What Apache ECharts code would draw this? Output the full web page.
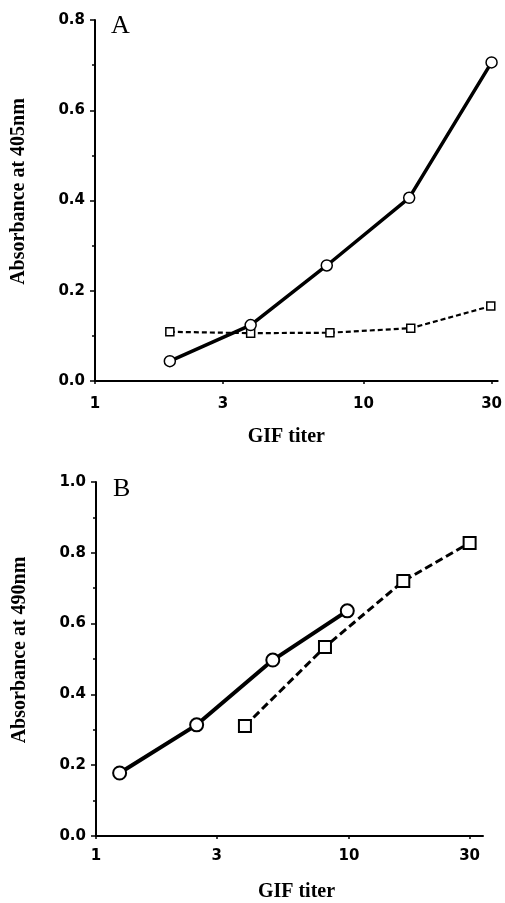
<!DOCTYPE html>
<html>
<head>
<meta charset="utf-8">
<script src="https://cdn.jsdelivr.net/npm/echarts@6/dist/echarts.min.js"></script>
<style>
  html, body { margin: 0; padding: 0; background: #fff; }
  #main { width: 505px; height: 903px; }
</style>
</head>
<body>
<div id="main"></div>
<script>
// panel A: absorbance at 405nm
const titerA_circle = [1.9, 3.8, 7.3, 14.8, 30];
const absA_circle = [0.044, 0.124, 0.256, 0.406, 0.706];
const titerA_square = [1.9, 3.8, 7.5, 15, 29.8];
const absA_square = [0.109, 0.106, 0.107, 0.117, 0.166];

// panel B: absorbance at 490nm
const titerB_circle = [1.24, 2.5, 5.0, 9.85];
const absB_circle = [0.178, 0.314, 0.497, 0.636];
const titerB_square = [3.88, 8.04, 16.4, 30];
const absB_square = [0.311, 0.534, 0.720, 0.828];

const xTicks = [1, 3, 10, 30];

const tickFont = {fontFamily: 'DejaVu Sans', fontWeight: 'bold', fontSize: 15, color: '#000'};
const nameFont = {fontFamily: 'Liberation Serif', fontWeight: 'bold', fontSize: 20, color: '#000'};

function pts(xs, ys) {
	return xs.map((x, i) => [Math.log10(x), ys[i]]);
}

function xAxis(grid, max, labelMargin, pad) {
	return {
		type: 'value', gridIndex: grid, min: 0, max: max,
		name: 'GIF titer', nameLocation: 'middle', nameGap: 46,
		nameTextStyle: Object.assign({}, nameFont, {padding: pad}),
		axisLine: {lineStyle: {color: '#000', width: 2}},
		axisTick: {show: true, length: 3, lineStyle: {color: '#000', width: 1.5},
			customValues: xTicks.map(v => Math.log10(v))},
		axisLabel: Object.assign({}, tickFont, {
			margin: labelMargin,
			customValues: xTicks.map(v => Math.log10(v)),
			formatter: v => String(Math.round(Math.pow(10, v)))
		}),
		splitLine: {show: false}
	};
}

function yAxis(grid, max, title) {
	return {
		type: 'value', gridIndex: grid, min: 0, max: max, interval: 0.2,
		name: title, nameLocation: 'middle', nameGap: 66, nameRotate: 90,
		nameTextStyle: Object.assign({}, nameFont, {padding: [0, 0, 0, 18]}),
		axisLine: {show: true, lineStyle: {color: '#000', width: 2}},
		axisTick: {show: true, length: 5, lineStyle: {color: '#000', width: 1.5}},
		minorTick: {show: true, splitNumber: 2, length: 3, lineStyle: {color: '#000', width: 1.5}},
		axisLabel: Object.assign({}, tickFont, {margin: 10, formatter: v => v.toFixed(1)}),
		splitLine: {show: false}
	};
}

function line(grid, data, symbol, size, width, dashed, borderW) {
	return {
		type: 'line', xAxisIndex: grid, yAxisIndex: grid, data: data,
		symbol: symbol, symbolSize: size, showSymbol: true,
		lineStyle: {color: '#000', width: width, type: dashed ? dashed : 'solid'},
		itemStyle: {color: '#fff', borderColor: '#000', borderWidth: borderW, opacity: 1},
		z: symbol == 'circle' ? 3 : 2
	};
}

const chart = echarts.init(document.getElementById('main'), null, {renderer: 'canvas'});
chart.setOption({
	animation: false,
	backgroundColor: '#fff',
	title: [
		{text: 'A', left: 106, top: 8, textStyle: {fontFamily: 'Liberation Serif', fontWeight: 'normal', fontSize: 26, color: '#000'}},
		{text: 'B', left: 108, top: 471, textStyle: {fontFamily: 'Liberation Serif', fontWeight: 'normal', fontSize: 26, color: '#000'}}
	],
	grid: [
		{left: 95, top: 20, width: 405, height: 361},
		{left: 96, top: 482, width: 387, height: 359}
	],
	xAxis: [xAxis(0, 1.5, 16, [0, 20, 0, 0]), xAxis(1, 1.53, 13, [0, 0, 0, 14])],
	yAxis: [yAxis(0, 0.8, 'Absorbance at 405nm'), yAxis(1, 1.0, 'Absorbance at 490nm')],
	series: [
		line(0, pts(titerA_square, absA_square), 'rect', 8, 2.2, [5, 3], 1.5),
		line(0, pts(titerA_circle, absA_circle), 'circle', 11, 3.5, null, 1.5),
		line(1, pts(titerB_square, absB_square), 'rect', 12, 3, [8, 4], 2),
		line(1, pts(titerB_circle, absB_circle), 'circle', 13, 4, null, 2)
	]
});
</script>
</body>
</html>
